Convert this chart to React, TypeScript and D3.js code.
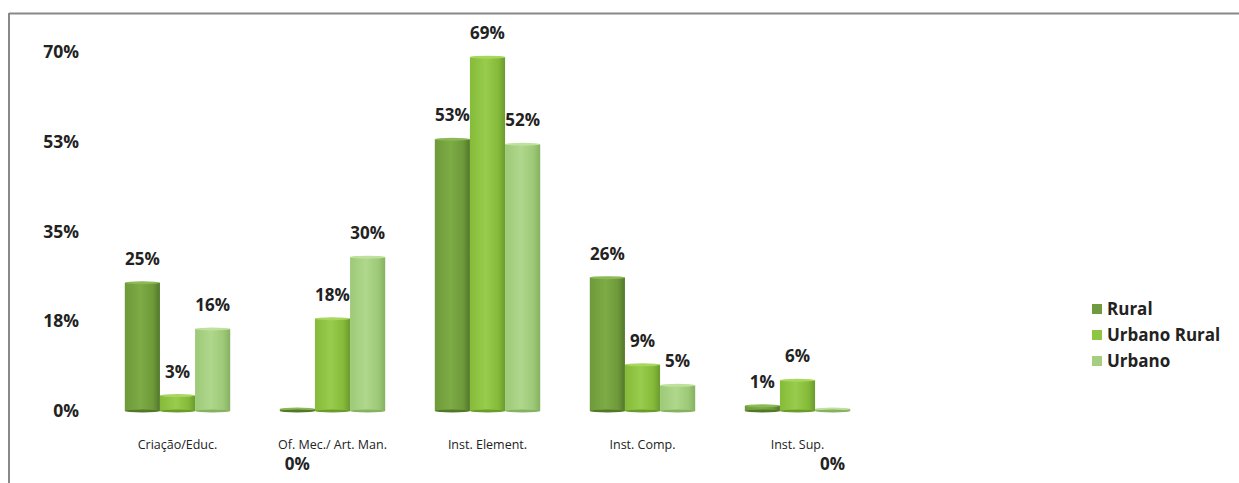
import React from "react";
import * as d3 from "d3";

const categories = ["Criação/Educ.", "Of. Mec./ Art. Man.", "Inst. Element.", "Inst. Comp.", "Inst. Sup."];
const series = ["Rural", "Urbano Rural", "Urbano"];
const rural = [25, 0, 53, 26, 1];
const urbanoRural = [3, 18, 69, 9, 6];
const urbano = [16, 30, 52, 5, 0];
const yTicks = [0, 17.5, 35, 52.5, 70];
const yTickLabels = ["0%", "18%", "35%", "53%", "70%"];

const values = [rural, urbanoRural, urbano];
const colors = [
  { l: "#6e9a3a", m: "#7dab45", r: "#52772a", top: "#8cb856", legend: "#6f9a3f" },
  { l: "#86bb3a", m: "#98cc4c", r: "#6b9b2e", top: "#a8d65e", legend: "#8ec641" },
  { l: "#9dc978", m: "#b0d78c", r: "#85b160", top: "#c0e09e", legend: "#a5cf80" },
];

export default function App() {
  const W = 1239, H = 483;
  const x = d3.scaleBand<string>().domain(categories).range([100, 875]).paddingInner(0.32).paddingOuter(0.16);
  const xs = d3.scaleBand<string>().domain(series).range([0, x.bandwidth()]);
  const y = d3.scaleLinear().domain([0, 70]).range([411, 52]);
  const font = "'Open Sans', Lato, sans-serif";

  return (
    <svg width={W} height={H} style={{ position: "absolute", left: 0, top: 0, background: "#fff" }}>
      <defs>
        {colors.map((c, i) => (
          <linearGradient key={i} id={`g${i}`} x1="0" x2="1" y1="0" y2="0">
            <stop offset="0" stopColor={c.l} />
            <stop offset="0.45" stopColor={c.m} />
            <stop offset="0.8" stopColor={c.l} />
            <stop offset="1" stopColor={c.r} />
          </linearGradient>
        ))}
      </defs>
      <line x1={9} x2={W} y1={13.5} y2={13.5} stroke="#888" strokeWidth={2} />
      <line x1={9} x2={9} y1={13} y2={H} stroke="#888" strokeWidth={2} />

      {yTicks.map((t, i) => (
        <text key={i} x={79} y={y(t)} dy="0.35em" textAnchor="end" fontFamily={font} fontWeight="bold" fontSize={17.5} fill="#222">
          {yTickLabels[i]}
        </text>
      ))}

      {categories.map((cat, ci) => (
        <g key={cat} transform={`translate(${x(cat)},0)`}>
          {series.map((s, si) => {
            const v = values[si][ci];
            const bx = xs(s)!;
            const bw = xs.bandwidth();
            const top = v === 0 ? y(0) - 2 : y(v);
            const h = y(0) - top;
            return (
              <g key={s}>
                <rect x={bx} y={top} width={bw} height={h} fill={`url(#g${si})`} />
                <ellipse cx={bx + bw / 2} cy={top} rx={bw / 2} ry={1.5} fill={colors[si].top} />
                <ellipse cx={bx + bw / 2} cy={y(0)} rx={bw / 2} ry={1.5} fill={colors[si].r} />
              </g>
            );
          })}
          <text x={x.bandwidth() / 2} y={445} dy="0.35em" textAnchor="middle" fontFamily={font} fontSize={12.5} fill="#222">
            {cat}
          </text>
          {series.map((s, si) => {
            const v = values[si][ci];
            const cx = xs(s)! + xs.bandwidth() / 2;
            const ly = v === 0 ? 464 : y(v) - 24;
            return (
              <text key={s} x={cx} y={ly} dy="0.35em" textAnchor="middle" fontFamily={font} fontWeight="bold" fontSize={17} fill="#222">
                {`${v}%`}
              </text>
            );
          })}
        </g>
      ))}

      {series.map((s, i) => (
        <g key={s} transform={`translate(1092,${309 + i * 26})`}>
          <rect x={0} y={-5} width={10} height={10} fill={colors[i].legend} />
          <text x={15} y={0} dy="0.35em" fontFamily={font} fontWeight="bold" fontSize={17} fill="#222">
            {s}
          </text>
        </g>
      ))}
    </svg>
  );
}
